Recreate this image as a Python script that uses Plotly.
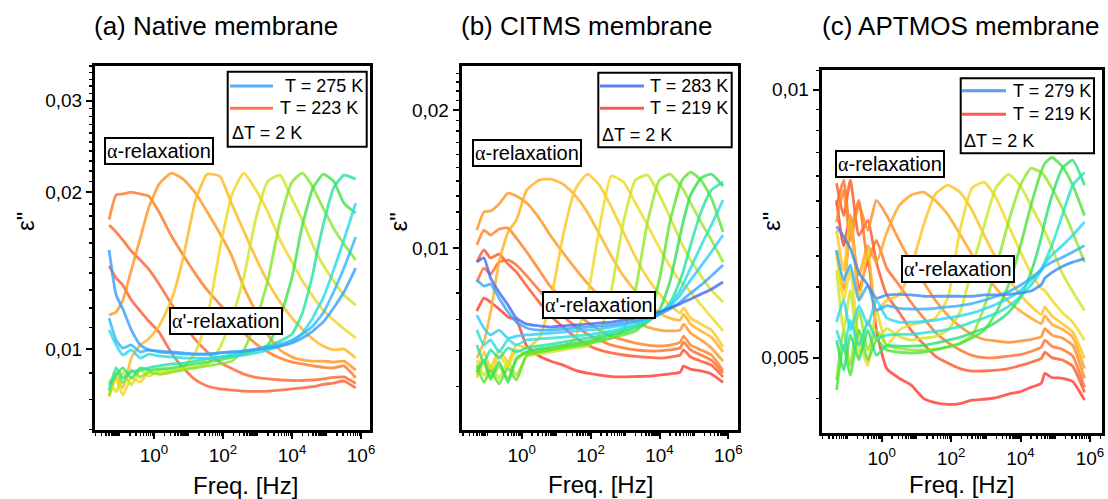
import plotly.graph_objects as go

# ---------------- data ----------------
FREQ_HZ = [0.05, 0.08, 0.125, 0.22, 0.4, 0.7, 1.4, 3.2, 7, 16, 35, 80, 180, 400, 900,
           2000, 4500, 1e4, 2e4, 4e4, 5e4, 8e4, 1.6e5, 3.2e5, 7e5]

# (a) Native membrane, ordered from T = 223 K (red) to T = 275 K (blue)
NAT_01 = [0.01444, 0.01369, 0.01327, 0.01242, 0.01183, 0.01132, 0.01078, 0.00983, 0.0092, 0.00872, 0.00849, 0.00838, 0.00834, 0.0083, 0.00829, 0.0083, 0.00834, 0.00838, 0.00842, 0.00847, 0.00849, 0.00855, 0.0086, 0.00868, 0.00842]
NAT_02 = [0.01731, 0.01678, 0.0162, 0.01543, 0.01483, 0.01424, 0.01333, 0.0122, 0.01122, 0.01041, 0.00987, 0.00944, 0.00917, 0.00895, 0.00882, 0.00876, 0.00872, 0.0087, 0.0087, 0.00872, 0.00873, 0.00876, 0.00882, 0.00884, 0.00859]
NAT_03 = [0.01773, 0.01977, 0.01986, 0.02003, 0.01986, 0.01968, 0.01834, 0.01649, 0.01516, 0.01393, 0.01298, 0.0122, 0.01147, 0.01074, 0.01023, 0.00987, 0.00961, 0.00944, 0.00936, 0.00928, 0.00926, 0.00922, 0.0092, 0.00928, 0.0088]
NAT_04 = [0.01162, 0.01178, 0.01242, 0.01418, 0.01634, 0.01866, 0.02075, 0.02178, 0.02121, 0.01995, 0.01834, 0.01671, 0.01509, 0.01315, 0.01178, 0.01064, 0.00996, 0.00965, 0.00953, 0.00948, 0.00948, 0.00948, 0.00944, 0.00948, 0.00911]
NAT_05 = [0.00809, 0.0088, 0.00842, 0.00961, 0.01018, 0.01045, 0.01107, 0.01242, 0.01496, 0.01933, 0.02169, 0.02149, 0.01899, 0.01686, 0.01496, 0.01345, 0.01231, 0.01147, 0.01093, 0.01045, 0.01034, 0.01013, 0.00996, 0.01, 0.00961]
NAT_06 = [0.00827, 0.00872, 0.00816, 0.0088, 0.00864, 0.00903, 0.00895, 0.00903, 0.0092, 0.00987, 0.01147, 0.0155, 0.01977, 0.02178, 0.02021, 0.01834, 0.0162, 0.01469, 0.01351, 0.01264, 0.01236, 0.01188, 0.01137, 0.01093, 0.0105]
NAT_07 = [0.00872, 0.00827, 0.00903, 0.00853, 0.00911, 0.00887, 0.00907, 0.00911, 0.00915, 0.00924, 0.00936, 0.01004, 0.01147, 0.01375, 0.01785, 0.02103, 0.02159, 0.01942, 0.01769, 0.01584, 0.01534, 0.0145, 0.01351, 0.0127, 0.01215]
NAT_08 = [0.00816, 0.00903, 0.0086, 0.00911, 0.00884, 0.00903, 0.00895, 0.00903, 0.00911, 0.0092, 0.00928, 0.00936, 0.00948, 0.00996, 0.01132, 0.01357, 0.01762, 0.02094, 0.02178, 0.02048, 0.01986, 0.01866, 0.01708, 0.01591, 0.01483]
NAT_09 = [0.00853, 0.00891, 0.0092, 0.0088, 0.0092, 0.00911, 0.00915, 0.0092, 0.00928, 0.00936, 0.00944, 0.00953, 0.00965, 0.00978, 0.00996, 0.01018, 0.01147, 0.01375, 0.01731, 0.02038, 0.02085, 0.02169, 0.02103, 0.01908, 0.01825]
NAT_10 = [0.00834, 0.0092, 0.0088, 0.00903, 0.00911, 0.0092, 0.00928, 0.00936, 0.0094, 0.00948, 0.00957, 0.00965, 0.00974, 0.00987, 0.01, 0.01013, 0.01036, 0.01069, 0.01173, 0.01393, 0.01503, 0.01731, 0.02038, 0.02159, 0.02121]
NAT_11 = [0.01088, 0.01018, 0.00974, 0.00996, 0.00961, 0.00978, 0.0097, 0.00965, 0.00961, 0.00961, 0.00961, 0.00965, 0.0097, 0.00974, 0.00983, 0.00996, 0.01013, 0.01031, 0.01073, 0.01147, 0.01183, 0.01253, 0.01418, 0.0162, 0.01908]
NAT_12 = [0.01147, 0.01041, 0.01004, 0.01018, 0.00987, 0.00996, 0.00987, 0.00983, 0.00978, 0.00978, 0.00978, 0.00983, 0.00987, 0.00991, 0.01, 0.01009, 0.01022, 0.01041, 0.01069, 0.01107, 0.01127, 0.01173, 0.01287, 0.01431, 0.01641]
NAT_13 = [0.0155, 0.0127, 0.01194, 0.01088, 0.01018, 0.00996, 0.00991, 0.00987, 0.00983, 0.00978, 0.00978, 0.00983, 0.00987, 0.00991, 0.00996, 0.01004, 0.01013, 0.01027, 0.0105, 0.01083, 0.01097, 0.01127, 0.01199, 0.01287, 0.01431]

# (b) CITMS membrane, T = 219 K (red) ... 283 K (blue)
CIT_01 = [0.0073, 0.00779, 0.00764, 0.00738, 0.00709, 0.00698, 0.00613, 0.00583, 0.00568, 0.00557, 0.00543, 0.00535, 0.0053, 0.00526, 0.00525, 0.00526, 0.00527, 0.0053, 0.00533, 0.00538, 0.00554, 0.00546, 0.00541, 0.00533, 0.00511]
CIT_02 = [0.00934, 0.00992, 0.00953, 0.00972, 0.00924, 0.00888, 0.00828, 0.00764, 0.00712, 0.00674, 0.00641, 0.00616, 0.00601, 0.00592, 0.00586, 0.00582, 0.00579, 0.00577, 0.0058, 0.00586, 0.00601, 0.0058, 0.00568, 0.00557, 0.00525]
CIT_03 = [0.00845, 0.00906, 0.00879, 0.00934, 0.00943, 0.0092, 0.00871, 0.00811, 0.00757, 0.00712, 0.00678, 0.00651, 0.00632, 0.00616, 0.00607, 0.00601, 0.00598, 0.00598, 0.00601, 0.00607, 0.00625, 0.00601, 0.00586, 0.00571, 0.00535]
CIT_04 = [0.01017, 0.01096, 0.01069, 0.01102, 0.01107, 0.01053, 0.00982, 0.00897, 0.00824, 0.00772, 0.00727, 0.00691, 0.00664, 0.00644, 0.00632, 0.00622, 0.00616, 0.00613, 0.00616, 0.00625, 0.00644, 0.00616, 0.00601, 0.00586, 0.00543]
CIT_05 = [0.01096, 0.012, 0.01206, 0.01249, 0.01319, 0.013, 0.01255, 0.01164, 0.01064, 0.00977, 0.00906, 0.0084, 0.00788, 0.00749, 0.00716, 0.00691, 0.00674, 0.00664, 0.00661, 0.00664, 0.00684, 0.00654, 0.00632, 0.00607, 0.00568]
CIT_06 = [0.00577, 0.00625, 0.00727, 0.00934, 0.01085, 0.01152, 0.01339, 0.01408, 0.01415, 0.0138, 0.01306, 0.012, 0.01074, 0.00962, 0.00871, 0.00807, 0.0076, 0.00723, 0.00705, 0.00698, 0.00719, 0.00684, 0.00661, 0.00641, 0.00595]
CIT_07 = [0.00538, 0.00595, 0.00549, 0.00601, 0.00566, 0.00616, 0.00607, 0.00638, 0.00772, 0.01069, 0.01339, 0.01451, 0.01373, 0.0123, 0.01085, 0.00957, 0.00862, 0.00795, 0.00753, 0.00723, 0.00742, 0.00705, 0.00684, 0.00664, 0.0061]
CIT_08 = [0.00522, 0.00571, 0.00538, 0.00583, 0.00554, 0.00601, 0.00589, 0.00595, 0.00601, 0.0061, 0.00638, 0.00779, 0.01107, 0.01437, 0.01394, 0.01255, 0.01124, 0.01002, 0.00915, 0.00849, 0.00836, 0.00803, 0.00753, 0.00709, 0.00661]
CIT_09 = [0.00571, 0.0053, 0.00557, 0.00522, 0.00566, 0.0053, 0.00583, 0.00589, 0.00595, 0.00601, 0.00607, 0.00613, 0.00648, 0.00811, 0.01141, 0.01408, 0.01444, 0.01306, 0.0117, 0.01043, 0.01007, 0.00943, 0.00871, 0.00811, 0.00764]
CIT_10 = [0.0053, 0.00566, 0.00517, 0.00554, 0.00522, 0.00571, 0.00595, 0.00601, 0.00604, 0.0061, 0.00616, 0.00622, 0.00632, 0.00638, 0.00664, 0.00811, 0.01141, 0.01408, 0.01451, 0.01373, 0.01339, 0.01255, 0.01141, 0.01043, 0.00934]
CIT_11 = [0.00557, 0.00511, 0.00543, 0.00507, 0.00549, 0.00517, 0.00586, 0.00595, 0.00601, 0.00607, 0.00613, 0.00619, 0.00628, 0.00638, 0.00648, 0.00661, 0.00698, 0.00857, 0.01141, 0.0138, 0.01422, 0.01466, 0.01408, 0.01287, 0.01085]
CIT_12 = [0.00538, 0.00571, 0.00522, 0.00566, 0.00511, 0.00577, 0.00595, 0.00604, 0.0061, 0.00616, 0.00622, 0.00628, 0.00638, 0.00648, 0.00657, 0.00671, 0.00691, 0.00734, 0.00845, 0.01069, 0.01152, 0.01306, 0.01422, 0.01451, 0.01366]
CIT_13 = [0.00616, 0.00566, 0.00601, 0.00577, 0.00607, 0.00595, 0.00607, 0.00613, 0.00619, 0.00625, 0.00632, 0.00638, 0.00644, 0.00654, 0.00664, 0.00678, 0.00695, 0.00719, 0.0076, 0.00853, 0.00897, 0.01017, 0.012, 0.01339, 0.01394]
CIT_14 = [0.00664, 0.00616, 0.00632, 0.00595, 0.00632, 0.00616, 0.00632, 0.00635, 0.00638, 0.00641, 0.00644, 0.00648, 0.00654, 0.00661, 0.00671, 0.00681, 0.00698, 0.00719, 0.00753, 0.00811, 0.0084, 0.00906, 0.01012, 0.01124, 0.01274]
CIT_15 = [0.00716, 0.00671, 0.00648, 0.00664, 0.00638, 0.00644, 0.00648, 0.00651, 0.00654, 0.00657, 0.00661, 0.00664, 0.00667, 0.00674, 0.00681, 0.00691, 0.00705, 0.00723, 0.00749, 0.00791, 0.00811, 0.00853, 0.00915, 0.00982, 0.01069]
CIT_16 = [0.00853, 0.00828, 0.00836, 0.00779, 0.00727, 0.00691, 0.00671, 0.00664, 0.00664, 0.00667, 0.00671, 0.00674, 0.00678, 0.00681, 0.00688, 0.00695, 0.00705, 0.00719, 0.00738, 0.00764, 0.00776, 0.00799, 0.00832, 0.00871, 0.0092]
CIT_17 = [0.00934, 0.00953, 0.00862, 0.00803, 0.00753, 0.00705, 0.00684, 0.00678, 0.00674, 0.00678, 0.00681, 0.00684, 0.00688, 0.00691, 0.00698, 0.00705, 0.00716, 0.00727, 0.00742, 0.00757, 0.00764, 0.00776, 0.00795, 0.00815, 0.00845]

# (c) APTMOS membrane, T = 219 K (red) ... 279 K (blue)
APT_01 = [0.00751, 0.00668, 0.00722, 0.00595, 0.00643, 0.00537, 0.00486, 0.00474, 0.00466, 0.0045, 0.00445, 0.00443, 0.00444, 0.00448, 0.00449, 0.00451, 0.00455, 0.00458, 0.00463, 0.00468, 0.0048, 0.00475, 0.00474, 0.0047, 0.00448]
APT_02 = [0.00785, 0.00722, 0.00791, 0.00686, 0.00713, 0.0064, 0.00588, 0.00562, 0.00537, 0.00518, 0.00502, 0.00493, 0.00486, 0.00483, 0.00483, 0.00484, 0.00486, 0.0049, 0.00494, 0.00499, 0.00507, 0.005, 0.00497, 0.00489, 0.00457]
APT_03 = [0.00741, 0.00791, 0.00695, 0.00751, 0.00643, 0.00677, 0.0063, 0.00603, 0.00577, 0.00554, 0.00534, 0.0052, 0.0051, 0.00503, 0.005, 0.005, 0.00502, 0.00504, 0.00508, 0.00514, 0.00523, 0.00515, 0.00511, 0.00502, 0.00463]
APT_04 = [0.0071, 0.00771, 0.00677, 0.00741, 0.00695, 0.00751, 0.00722, 0.00677, 0.0064, 0.00608, 0.0058, 0.00558, 0.00542, 0.00531, 0.00524, 0.00522, 0.0052, 0.00522, 0.00524, 0.00528, 0.00539, 0.0053, 0.00526, 0.00516, 0.00474]
APT_05 = [0.0066, 0.00595, 0.00695, 0.00619, 0.00668, 0.0064, 0.00691, 0.00741, 0.00761, 0.00767, 0.00751, 0.00724, 0.00688, 0.00653, 0.00623, 0.00598, 0.00578, 0.00564, 0.00554, 0.00546, 0.00557, 0.00545, 0.00538, 0.00527, 0.00486]
APT_06 = [0.00695, 0.00627, 0.00722, 0.0058, 0.0066, 0.00565, 0.0058, 0.00588, 0.0063, 0.00704, 0.00763, 0.00781, 0.00767, 0.00732, 0.00686, 0.00646, 0.00614, 0.00588, 0.00571, 0.00559, 0.0057, 0.00557, 0.00546, 0.00534, 0.00499]
APT_07 = [0.00655, 0.0058, 0.00627, 0.00523, 0.0049, 0.00565, 0.00516, 0.00537, 0.00544, 0.00548, 0.00554, 0.00583, 0.00695, 0.00775, 0.00787, 0.00755, 0.00704, 0.00657, 0.00623, 0.00598, 0.00595, 0.0058, 0.00562, 0.00548, 0.00523]
APT_08 = [0.00627, 0.00537, 0.00595, 0.00503, 0.00551, 0.00523, 0.00539, 0.00528, 0.00523, 0.00526, 0.00528, 0.00537, 0.00562, 0.0063, 0.00704, 0.00777, 0.00803, 0.00779, 0.00741, 0.00704, 0.00693, 0.00665, 0.00622, 0.00593, 0.00565]
APT_09 = [0.00472, 0.00537, 0.0049, 0.00565, 0.0051, 0.00537, 0.00516, 0.00512, 0.0051, 0.0051, 0.00511, 0.00514, 0.00518, 0.0053, 0.0057, 0.00632, 0.0071, 0.00781, 0.00816, 0.00807, 0.00799, 0.00775, 0.00736, 0.00691, 0.0064]
APT_10 = [0.0046, 0.00516, 0.00478, 0.00537, 0.00497, 0.00523, 0.0051, 0.00507, 0.00506, 0.00507, 0.0051, 0.00514, 0.00519, 0.00526, 0.00537, 0.00562, 0.00603, 0.00668, 0.00741, 0.0081, 0.00826, 0.00839, 0.0082, 0.00781, 0.00722]
APT_11 = [0.00523, 0.00484, 0.0053, 0.00497, 0.00537, 0.00503, 0.00516, 0.00515, 0.00515, 0.00516, 0.00519, 0.00523, 0.00527, 0.00533, 0.00539, 0.00548, 0.00562, 0.00584, 0.00623, 0.00683, 0.0071, 0.00759, 0.00816, 0.00833, 0.00781]
APT_12 = [0.00537, 0.0051, 0.00551, 0.00516, 0.00548, 0.00526, 0.0053, 0.00531, 0.00531, 0.00533, 0.00535, 0.00538, 0.00542, 0.00548, 0.00554, 0.00561, 0.00571, 0.00586, 0.00603, 0.00627, 0.0064, 0.00668, 0.00722, 0.00781, 0.00807]
APT_13 = [0.00548, 0.0058, 0.00537, 0.00572, 0.00544, 0.0058, 0.00554, 0.00548, 0.00548, 0.00549, 0.00551, 0.00554, 0.00557, 0.00561, 0.00567, 0.00574, 0.00583, 0.00595, 0.00611, 0.0063, 0.00638, 0.00652, 0.00668, 0.00686, 0.0071]
APT_14 = [0.0066, 0.00611, 0.00635, 0.0058, 0.00603, 0.00565, 0.00572, 0.00568, 0.00567, 0.00567, 0.00568, 0.0057, 0.00572, 0.00575, 0.0058, 0.00586, 0.00593, 0.00603, 0.00614, 0.00627, 0.00633, 0.0064, 0.00648, 0.00657, 0.00668]
APT_15 = [0.00702, 0.00684, 0.00663, 0.00623, 0.00603, 0.00583, 0.00588, 0.00589, 0.00588, 0.00586, 0.00586, 0.00586, 0.00586, 0.00586, 0.00588, 0.00588, 0.00589, 0.00591, 0.00594, 0.00604, 0.00614, 0.00623, 0.00633, 0.0064, 0.00646]

PANEL_TITLES = ["(a) Native membrane", "(b) CITMS membrane", "(c) APTMOS membrane"]
LEGEND_TEXT = [("T = 275 K", "T = 223 K"), ("T = 283 K", "T = 219 K"), ("T = 279 K", "T = 219 K")]
DELTA_T = "ΔT = 2 K"
X_TICKS = [1, 100, 1e4, 1e6]
X_TICKTEXT = ["10<sup>0</sup>", "10<sup>2</sup>", "10<sup>4</sup>", "10<sup>6</sup>"]
Y_TICKS = [[0.01, 0.02, 0.03], [0.01, 0.02], [0.005, 0.01]]
Y_TICKTEXT = [["0,01", "0,02", "0,03"], ["0,01", "0,02"], ["0,005", "0,01"]]

PANELS = [
    [NAT_01, NAT_02, NAT_03, NAT_04, NAT_05, NAT_06, NAT_07, NAT_08, NAT_09, NAT_10, NAT_11, NAT_12, NAT_13],
    [CIT_01, CIT_02, CIT_03, CIT_04, CIT_05, CIT_06, CIT_07, CIT_08, CIT_09, CIT_10, CIT_11, CIT_12, CIT_13,
     CIT_14, CIT_15, CIT_16, CIT_17],
    [APT_01, APT_02, APT_03, APT_04, APT_05, APT_06, APT_07, APT_08, APT_09, APT_10, APT_11, APT_12, APT_13,
     APT_14, APT_15],
]

# ---------------- styling ----------------
W, H = 1108, 499
FONT = "Arial, Liberation Sans, sans-serif"
STOPS = [(0.0, (255, 62, 45)), (0.12, (255, 105, 40)), (0.25, (255, 150, 35)), (0.36, (255, 195, 35)),
         (0.45, (238, 222, 35)), (0.53, (185, 233, 40)), (0.62, (95, 228, 45)), (0.70, (45, 225, 95)),
         (0.78, (40, 228, 200)), (0.86, (45, 215, 250)), (0.93, (55, 175, 250)), (1.0, (62, 112, 240))]
PANEL_ENDS = [((255, 95, 55), (60, 160, 250)), ((255, 62, 50), (70, 108, 240)), ((255, 62, 50), (60, 140, 245))]


def jet(t, p):
    stops = [(0.0, PANEL_ENDS[p][0])] + STOPS[1:-1] + [(1.0, PANEL_ENDS[p][1])]
    for (p0, c0), (p1, c1) in zip(stops[:-1], stops[1:]):
        if t <= p1:
            f = (t - p0) / (p1 - p0) if p1 > p0 else 0
            return "rgb(%d,%d,%d)" % tuple(round(a + (b - a) * f) for a, b in zip(c0, c1))
    return "rgb(%d,%d,%d)" % stops[-1][1]


def px(x):
    return x / W


def py(y):
    return 1 - y / H


XDOM = [(95, 370), (461.7, 738), (821.7, 1101.7)]
YDOM = [(66, 430), (66, 430), (70, 433.3)]
XRANGE = [(-1.71, 6.26), (-1.742, 6.279), (-1.729, 6.34)]
YRANGE = [(-2.1556, -1.456), (-2.3954, -1.603), (-2.386, -1.978)]
Y_MINOR = [[round(0.007 + 0.001 * i, 4) for i in range(29)],
           [round(0.004 + 0.001 * i, 4) for i in range(21)],
           [round(0.0045 + 0.0005 * i, 5) for i in range(13)]]
X_MINOR = [m * 10 ** k for k in range(-2, 7) for m in range(1, 10) if not (m == 1 and k % 2 == 0)]

fig = go.Figure()
for p, curves in enumerate(PANELS):
    n = len(curves)
    suffix = "" if p == 0 else str(p + 1)
    for i, ys in enumerate(curves):
        fig.add_trace(go.Scatter(
            x=FREQ_HZ, y=ys, mode="lines", showlegend=False, hoverinfo="skip",
            line=dict(color=jet(i / (n - 1), p), width=2.8, shape="spline", smoothing=0.5),
            opacity=0.82, xaxis="x" + suffix, yaxis="y" + suffix))

layout = dict(width=W, height=H, margin=dict(l=0, r=0, t=0, b=0, pad=0), paper_bgcolor="white",
              plot_bgcolor="white", font=dict(family=FONT, color="black"), showlegend=False)
axis_common = dict(type="log", showgrid=False, zeroline=False, showline=True, linecolor="black",
                   linewidth=3, mirror=True, ticks="outside", tickcolor="black", tickwidth=2,
                   ticklen=6, automargin=False, tickfont=dict(size=19, family=FONT, color="black"))
for p in range(3):
    suffix = "" if p == 0 else str(p + 1)
    layout["xaxis" + suffix] = dict(
        axis_common, domain=[px(XDOM[p][0]), px(XDOM[p][1])], range=list(XRANGE[p]),
        anchor="y" + suffix, tickvals=X_TICKS, ticktext=X_TICKTEXT,
        minor=dict(tickvals=X_MINOR, ticks="outside", ticklen=3, tickwidth=1.5, tickcolor="black"))
    layout["yaxis" + suffix] = dict(
        axis_common, domain=[py(YDOM[p][1]), py(YDOM[p][0])], range=list(YRANGE[p]),
        anchor="x" + suffix, tickvals=Y_TICKS[p], ticktext=Y_TICKTEXT[p],
        minor=dict(tickvals=Y_MINOR[p], ticks="outside", ticklen=3, tickwidth=1.5, tickcolor="black"))
fig.update_layout(**layout)

ann = []
shapes = []


def label(text, x, y, size, xanchor="center", **kw):
    return dict(text=text, x=px(x), y=py(y), xref="paper", yref="paper", xanchor=xanchor,
                yanchor="middle", showarrow=False, font=dict(size=size, family=FONT, color="black"), **kw)


TITLE_POS = [(216, 26), (586.5, 26), (960.8, 26)]
XT_POS = [(245.8, 485), (600.8, 484), (961.7, 484)]
YT_POS = [(25, 222), (397.5, 222), (771, 222)]
for p in range(3):
    ann.append(label(PANEL_TITLES[p], *TITLE_POS[p], 26))
    ann.append(label("Freq. [Hz]", *XT_POS[p], 24))
    ann.append(label("ε\"", *YT_POS[p], 24, textangle=-90))

ALPHA = '<span style="font-family:Liberation Serif">α</span>'
REL_POS = [((158.7, 151.3), (226, 321)), ((527, 152.8), (598.8, 304.8)), ((889.7, 163.5), (957.5, 268.5))]
for p in range(3):
    for j, txt in enumerate([ALPHA + "-relaxation", ALPHA + "'-relaxation"]):
        ann.append(label(txt, *REL_POS[p][j], 20, bgcolor="white", bordercolor="black",
                         borderwidth=2, borderpad=1))

LEG_BOX = [(227.7, 71.7, 366.7, 146.7), (598.3, 72.7, 731.7, 147.3), (960.7, 78.3, 1094, 153.3)]
LEG_LINE_X = [(230, 273), (600, 644), (962, 1006)]
LEG_ROWS = [(86, 108.3, 133.3), (86, 108.3, 135), (90.7, 114.3, 140.7)]
LEG_TEXT_X = [(282.7, 278), (648, 648), (1010.7, 1010.7)]
for p in range(3):
    x0, y0, x1, y1 = LEG_BOX[p]
    shapes.append(dict(type="rect", xref="paper", yref="paper", x0=px(x0), x1=px(x1), y0=py(y1), y1=py(y0),
                       line=dict(color="black", width=2), fillcolor="white", layer="above"))
    for k, (col, txt) in enumerate([(jet(1.0, p), LEGEND_TEXT[p][0]), (jet(0.0, p), LEGEND_TEXT[p][1])]):
        yy = LEG_ROWS[p][k]
        shapes.append(dict(type="line", xref="paper", yref="paper", x0=px(LEG_LINE_X[p][0]),
                           x1=px(LEG_LINE_X[p][1]), y0=py(yy), y1=py(yy),
                           line=dict(color=col, width=3), layer="above", opacity=0.85))
        ann.append(label(txt, LEG_TEXT_X[p][k], yy, 18, xanchor="left"))
    ann.append(label(DELTA_T, LEG_LINE_X[p][0], LEG_ROWS[p][2], 18, xanchor="left"))

fig.update_layout(annotations=ann, shapes=shapes)
fig.write_html("out.html", config={"displayModeBar": False, "staticPlot": True},
               post_script="document.body.style.margin='0';document.body.style.overflow='hidden';")
